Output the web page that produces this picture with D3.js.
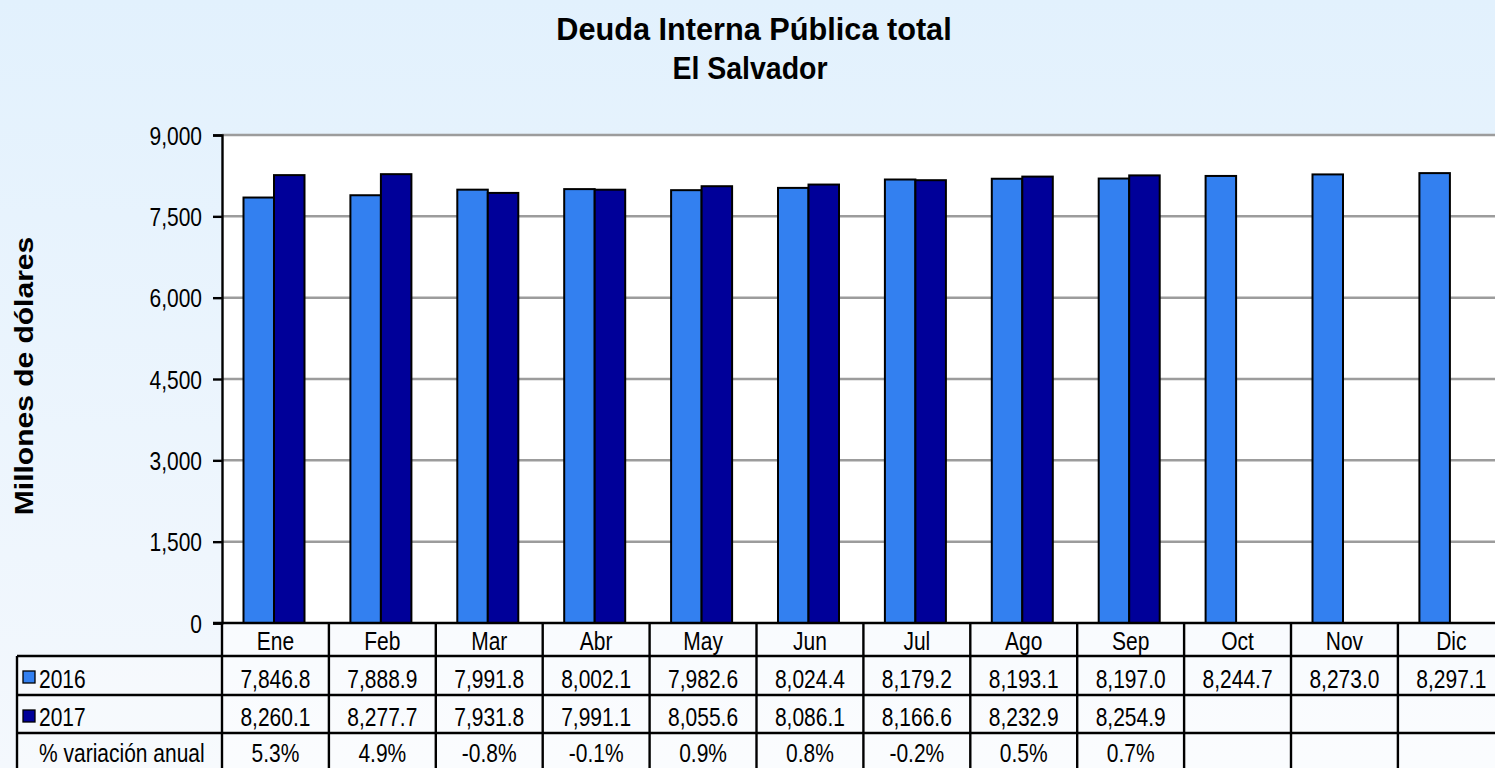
<!DOCTYPE html>
<html>
<head>
<meta charset="utf-8">
<script src="https://cdn.jsdelivr.net/npm/d3@7"></script>
<style>
  html, body { margin: 0; padding: 0; overflow: hidden; }
  svg { display: block; font-family: "Liberation Sans", Arial, sans-serif; }
</style>
</head>
<body>
<svg id="chart" width="1495" height="768"></svg>
<script>
// Monthly domestic public debt, millions of USD
const months = ["Ene", "Feb", "Mar", "Abr", "May", "Jun", "Jul", "Ago", "Sep", "Oct", "Nov", "Dic"];
const seriesNames = ["2016", "2017"];
const values2016 = [7846.8, 7888.9, 7991.8, 8002.1, 7982.6, 8024.4, 8179.2, 8193.1, 8197.0, 8244.7, 8273.0, 8297.1];
const values2017 = [8260.1, 8277.7, 7931.8, 7991.1, 8055.6, 8086.1, 8166.6, 8232.9, 8254.9, null, null, null];
const variation = [5.3, 4.9, -0.8, -0.1, 0.9, 0.8, -0.2, 0.5, 0.7, null, null, null];
const yTicks = [0, 1500, 3000, 4500, 6000, 7500, 9000];
const titleLines = ["Deuda Interna Pública total", "El Salvador"];
const yTitle = "Millones de dólares";
const variationLabel = "% variación anual";

const colors = { "2016": "#3380f0", "2017": "#000099" };
const series = { "2016": values2016, "2017": values2017 };

const W = 1495, H = 768;
const plotLeft = 222, plotTop = 135, zeroY = 623;
const colW = 106.9;
const labelColX = 17;
const rowLines = [623, 656, 695, 733];
const rowBase = [650, 687.5, 726, 762];
const SX = 0.84;      // horizontal squeeze of the text
const FONT = 25;

const svg = d3.select("#chart");

// page background
const defs = svg.append("defs");
const grad = defs.append("linearGradient").attr("id", "bg").attr("x1", 0).attr("y1", 0).attr("x2", 0).attr("y2", 1);
grad.append("stop").attr("offset", "0%").attr("stop-color", "#e2f1fd");
grad.append("stop").attr("offset", "100%").attr("stop-color", "#f4f8fd");
svg.append("rect").attr("width", W).attr("height", H).attr("fill", "url(#bg)");

const x = d3.scaleBand().domain(months).range([plotLeft, plotLeft + colW * months.length]).padding(0);
const x1 = d3.scaleBand().domain(seriesNames).range([21.5, 82.5]).padding(0);
const y = d3.scaleLinear().domain([0, 9000]).range([zeroY, plotTop]);

function label(g, txt, px, py, opts = {}) {
  const sx = opts.sx || SX;
  return g.append("text")
    .attr("transform", `translate(${px},${py}) scale(${sx},1)`)
    .attr("text-anchor", opts.anchor || "middle")
    .attr("font-size", opts.size || FONT)
    .attr("font-weight", opts.weight || "normal")
    .attr("fill", "#000")
    .text(txt);
}

// plot area
svg.append("rect")
  .attr("x", plotLeft).attr("y", plotTop)
  .attr("width", W - plotLeft).attr("height", zeroY - plotTop)
  .attr("fill", "#ffffff");

// gridlines
svg.append("g").selectAll("line")
  .data(yTicks.filter(d => d > 0))
  .join("line")
  .attr("x1", plotLeft).attr("x2", W)
  .attr("y1", d => y(d)).attr("y2", d => y(d))
  .attr("stroke", "#9c9c9c").attr("stroke-width", 2.5);

// bars
const groups = svg.append("g").selectAll("g")
  .data(months)
  .join("g")
  .attr("transform", d => `translate(${x(d)},0)`);

groups.selectAll("rect")
  .data((m, i) => seriesNames.map(s => ({ s, v: series[s][i] })).filter(d => d.v != null))
  .join("rect")
  .attr("x", d => x1(d.s))
  .attr("y", d => y(d.v))
  .attr("width", x1.bandwidth())
  .attr("height", d => y(0) - y(d.v))
  .attr("fill", d => colors[d.s])
  .attr("stroke", "#000").attr("stroke-width", 2);

// y axis
const yAxis = svg.append("g")
  .attr("transform", `translate(${plotLeft},0)`)
  .call(d3.axisLeft(y).tickValues(yTicks).tickFormat(d3.format(",")).tickSize(9).tickPadding(0));
yAxis.select(".domain").attr("stroke", "#000").attr("stroke-width", 2.4);
yAxis.selectAll(".tick line").attr("stroke", "#000").attr("stroke-width", 2.4);
yAxis.selectAll(".tick text")
  .attr("x", null).attr("dy", null)
  .attr("transform", `translate(-20,9) scale(${SX},1)`)
  .attr("font-size", FONT)
  .attr("font-family", "Liberation Sans, Arial, sans-serif")
  .attr("fill", "#000")
  .attr("text-anchor", "end");

// data table
const table = svg.append("g");
const tableRight = plotLeft + colW * months.length;

// cell backgrounds
table.append("rect")
  .attr("x", plotLeft).attr("y", rowLines[0])
  .attr("width", tableRight - plotLeft).attr("height", H - rowLines[0])
  .attr("fill", "#ffffff").attr("opacity", 0.55);
table.append("rect")
  .attr("x", labelColX).attr("y", rowLines[1])
  .attr("width", plotLeft - labelColX).attr("height", H - rowLines[1])
  .attr("fill", "#ffffff").attr("opacity", 0.3);

// horizontal rules
table.selectAll("line.h")
  .data(rowLines)
  .join("line")
  .attr("class", "h")
  .attr("x1", (d, i) => i === 0 ? plotLeft - 9 : labelColX)
  .attr("x2", W)
  .attr("y1", d => d).attr("y2", d => d)
  .attr("stroke", "#000").attr("stroke-width", 2.4);

// vertical rules
const vLines = months.map(m => x(m)).concat([tableRight]);
table.selectAll("line.v")
  .data(vLines)
  .join("line")
  .attr("class", "v")
  .attr("x1", d => d).attr("x2", d => d)
  .attr("y1", rowLines[0]).attr("y2", H)
  .attr("stroke", "#000").attr("stroke-width", 2.4);
table.append("line")
  .attr("x1", labelColX).attr("x2", labelColX)
  .attr("y1", rowLines[1]).attr("y2", H)
  .attr("stroke", "#000").attr("stroke-width", 2.4);

// row headers
seriesNames.forEach((s, i) => {
  const ry = rowLines[i + 1];
  table.append("rect")
    .attr("x", 23).attr("y", ry + 15)
    .attr("width", 12).attr("height", 12)
    .attr("fill", colors[s]).attr("stroke", "#000").attr("stroke-width", 1.3);
  label(table, s, 39, rowBase[i + 1], { anchor: "start" });
});
label(table, variationLabel, 39, rowBase[3], { anchor: "start" });

// cell texts
const fmtVal = d3.format(",.1f");
const fmtPct = d => d.toFixed(1) + "%";
months.forEach((m, i) => {
  const cx = x(m) + colW / 2;
  label(table, m, cx, rowBase[0]);
  if (values2016[i] != null) label(table, fmtVal(values2016[i]), cx, rowBase[1]);
  if (values2017[i] != null) label(table, fmtVal(values2017[i]), cx, rowBase[2]);
  if (variation[i] != null) label(table, fmtPct(variation[i]), cx, rowBase[3]);
});

// titles
label(svg, titleLines[0], 754, 40, { size: 31, weight: "bold", sx: 0.99 });
label(svg, titleLines[1], 750, 79, { size: 31, weight: "bold", sx: 0.92 });

// y axis title
svg.append("text")
  .attr("transform", "translate(33,376) rotate(-90) scale(1,0.87)")
  .attr("text-anchor", "middle")
  .attr("font-size", 30)
  .attr("font-weight", "bold")
  .attr("fill", "#000")
  .text(yTitle);
</script>
</body>
</html>
